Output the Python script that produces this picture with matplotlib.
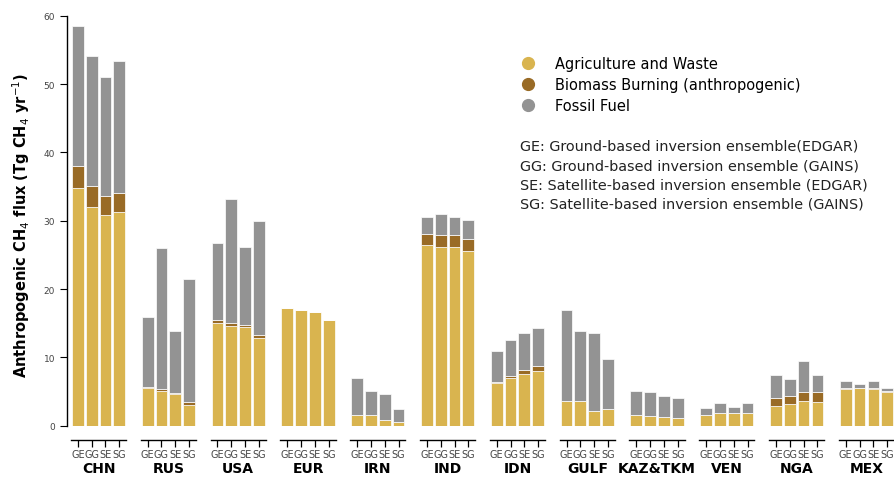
import matplotlib
matplotlib.use("Agg")
import matplotlib.pyplot as plt
from matplotlib.lines import Line2D

# regions and ensemble members
regions = ["CHN", "RUS", "USA", "EUR", "IRN", "IND", "IDN", "GULF",
           "KAZ&TKM", "VEN", "NGA", "MEX"]
members = ["GE", "GG", "SE", "SG"]

# flux by sector (Tg CH4/yr), one list per region: GE, GG, SE, SG
agri = [[34.8, 32.0, 30.8, 31.2], [5.5, 5.1, 4.6, 3.1], [15.1, 14.6, 14.5, 12.9],
        [17.2, 17.0, 16.6, 15.4], [1.6, 1.6, 0.9, 0.6], [26.4, 26.2, 26.2, 25.6],
        [6.3, 7.0, 7.5, 8.05], [3.6, 3.6, 2.2, 2.45], [1.6, 1.4, 1.2, 1.1],
        [1.6, 1.8, 1.8, 1.8], [2.9, 3.2, 3.6, 3.4], [5.3, 5.5, 5.3, 4.9]]
biomass = [[3.2, 3.1, 2.8, 2.8], [0.2, 0.2, 0.2, 0.3], [0.4, 0.4, 0.3, 0.4],
           [0.0, 0.0, 0.0, 0.0], [0.0, 0.0, 0.0, 0.0], [1.7, 1.7, 1.7, 1.7],
           [0.05, 0.2, 0.7, 0.75], [0.0, 0.0, 0.0, 0.0], [0.0, 0.0, 0.0, 0.0],
           [0.0, 0.0, 0.0, 0.0], [1.2, 1.1, 1.3, 1.5], [0.2, 0.0, 0.2, 0.2]]
fossil = [[20.5, 19.0, 17.5, 19.3], [10.2, 20.7, 9.1, 18.1], [11.2, 18.2, 11.3, 16.6],
          [0.0, 0.0, 0.0, 0.0], [5.4, 3.5, 3.8, 1.9], [2.5, 3.1, 2.7, 2.75],
          [4.55, 5.3, 5.3, 5.45], [13.4, 10.3, 11.3, 7.35], [3.5, 3.5, 3.1, 3.0],
          [0.95, 1.5, 0.9, 1.5], [3.3, 2.5, 4.5, 2.5], [1.0, 0.55, 1.0, 0.4]]

sector_names = ["Agriculture and Waste", "Biomass Burning (anthropogenic)", "Fossil Fuel"]
sector_colors = ["#d9b44f", "#996b26", "#939393"]

notes = ["GE: Ground-based inversion ensemble(EDGAR)",
         "GG: Ground-based inversion ensemble (GAINS)",
         "SE: Satellite-based inversion ensemble (EDGAR)",
         "SG: Satellite-based inversion ensemble (GAINS)"]

fig = plt.figure(figsize=(8.95, 4.81), dpi=100)

left, width, pitch = 0.0793, 0.0617, 0.078
bottom, height = 0.1129, 0.8524

for i, name in enumerate(regions):
    ax = fig.add_axes([left + i * pitch, bottom, width, height])
    x = range(len(members))
    a = agri[i]
    b = biomass[i]
    f = fossil[i]
    ab = [p + q for p, q in zip(a, b)]
    ax.bar(x, a, width=0.85, color=sector_colors[0], edgecolor="white", linewidth=0.5)
    ax.bar(x, b, width=0.85, bottom=a, color=sector_colors[1], edgecolor="white", linewidth=0.5)
    ax.bar(x, f, width=0.85, bottom=ab, color=sector_colors[2], edgecolor="white", linewidth=0.5)

    ax.set_xlim(-0.5, 3.5)
    ax.set_ylim(0, 60)
    ax.set_xticks(list(x))
    ax.tick_params(axis="x", length=5, width=0.9, pad=1.5,
                   labelsize=7.0, labelcolor="#444444")
    ax.set_xticklabels(members, fontsize=7.0, color="#444444")
    ax.set_xlabel(name, fontsize=10, fontweight="bold", labelpad=2)

    for s in ["top", "right"]:
        ax.spines[s].set_visible(False)
    ax.spines["bottom"].set_position(("outward", 10))
    ax.spines["bottom"].set_linewidth(1.0)
    ax.patch.set_visible(False)

    if i == 0:
        ax.spines["left"].set_position(("outward", 3))
        ax.spines["left"].set_linewidth(1.0)
        ax.set_yticks([0, 10, 20, 30, 40, 50, 60])
        ax.tick_params(axis="y", labelsize=6.5, labelcolor="#444444", length=5)
        ax.set_ylabel(r"Anthropogenic CH$_4$ flux (Tg CH$_4$ yr$^{-1}$)",
                      fontsize=10.5, fontweight="bold")
        ax.yaxis.set_label_coords(-0.71, 0.49)
    else:
        ax.spines["left"].set_visible(False)
        ax.set_yticks([])

handles = [Line2D([], [], marker="o", linestyle="none", markersize=8.5,
                  markerfacecolor=c, markeredgecolor=c) for c in sector_colors]
fig.legend(handles, sector_names, loc="upper left", bbox_to_anchor=(0.567, 0.909),
           frameon=False, fontsize=10.5, handlelength=1.0, handletextpad=1.35,
           labelspacing=0.42)

fig.text(520 / 895, 1 - 140 / 481, "\n".join(notes), fontsize=10.35, va="top",
         linespacing=1.48, color="#222222")

fig.savefig("out.png", dpi=100)
